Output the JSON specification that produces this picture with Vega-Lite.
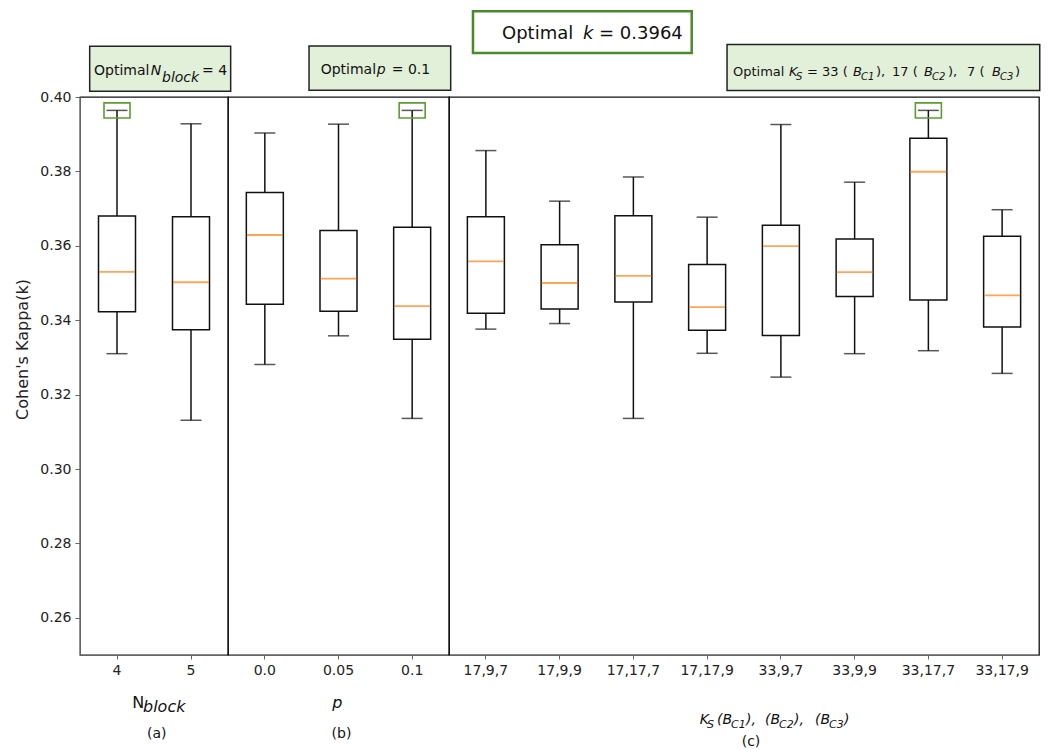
{
  "$schema": "https://vega.github.io/schema/vega-lite/v6.json",
  "padding": {"left": 14, "top": 9, "right": 5, "bottom": 5},
  "config": {
    "font": "DejaVu Sans",
    "view": {"stroke": "#111", "strokeWidth": 1.3},
    "axis": {"grid": false, "labelFontSize": 14, "labelColor": "#222", "domainColor": "#666", "tickColor": "#666", "titleFontWeight": "normal", "titleColor": "#222"},
    "axisX": {"tickSize": 4, "labelPadding": 4},
    "axisY": {"tickSize": 5, "labelPadding": 4}
  },
  "datasets": {
    "boxes": [
      {"panel": "a", "cat": "4", "lower": 0.3310, "q1": 0.3423, "median": 0.3530, "q3": 0.3680, "upper": 0.3964, "optimal": true},
      {"panel": "a", "cat": "5", "lower": 0.3131, "q1": 0.3374, "median": 0.3502, "q3": 0.3678, "upper": 0.3928, "optimal": false},
      {"panel": "b", "cat": "0.0", "lower": 0.3281, "q1": 0.3443, "median": 0.3629, "q3": 0.3743, "upper": 0.3903, "optimal": false},
      {"panel": "b", "cat": "0.05", "lower": 0.3358, "q1": 0.3424, "median": 0.3512, "q3": 0.3641, "upper": 0.3927, "optimal": false},
      {"panel": "b", "cat": "0.1", "lower": 0.3136, "q1": 0.3349, "median": 0.3438, "q3": 0.3650, "upper": 0.3964, "optimal": true},
      {"panel": "c", "cat": "17,9,7", "lower": 0.3376, "q1": 0.3419, "median": 0.3558, "q3": 0.3678, "upper": 0.3856, "optimal": false},
      {"panel": "c", "cat": "17,9,9", "lower": 0.3391, "q1": 0.3430, "median": 0.3500, "q3": 0.3603, "upper": 0.3720, "optimal": false},
      {"panel": "c", "cat": "17,17,7", "lower": 0.3136, "q1": 0.3449, "median": 0.3519, "q3": 0.3681, "upper": 0.3785, "optimal": false},
      {"panel": "c", "cat": "17,17,9", "lower": 0.3311, "q1": 0.3373, "median": 0.3435, "q3": 0.3550, "upper": 0.3677, "optimal": false},
      {"panel": "c", "cat": "33,9,7", "lower": 0.3247, "q1": 0.3359, "median": 0.3599, "q3": 0.3655, "upper": 0.3926, "optimal": false},
      {"panel": "c", "cat": "33,9,9", "lower": 0.3310, "q1": 0.3464, "median": 0.3529, "q3": 0.3618, "upper": 0.3771, "optimal": false},
      {"panel": "c", "cat": "33,17,7", "lower": 0.3318, "q1": 0.3454, "median": 0.3799, "q3": 0.3889, "upper": 0.3964, "optimal": true},
      {"panel": "c", "cat": "33,17,9", "lower": 0.3257, "q1": 0.3382, "median": 0.3467, "q3": 0.3626, "upper": 0.3697, "optimal": false}
    ]
  },
  "spacing": 0,
  "bounds": "flush",
  "hconcat": [
    {
      "width": 148,
      "height": 558,
      "layer": [
        {
          "data": {"name": "boxes"},
          "transform": [{"filter": "datum.panel === 'a'"}],
          "encoding": {
            "x": {"field": "cat", "type": "nominal", "sort": null, "title": null, "scale": {"type": "band", "domain": ["4", "5"], "paddingInner": 0, "paddingOuter": 0}, "axis": {"title": null, "labelAngle": 0}}
          },
          "layer": [
            {"mark": {"type": "rule", "color": "#111", "strokeWidth": 1.5},
             "encoding": {"y": {"field": "lower", "type": "quantitative", "title": "Cohen's Kappa(k)", "scale": {"domain": [0.25, 0.40], "nice": false, "zero": false},
               "axis": {"title": "Cohen's Kappa(k)", "values": [0.26, 0.28, 0.30, 0.32, 0.34, 0.36, 0.38, 0.40], "format": ".2f", "titleFontSize": 16, "titlePadding": 9, "titleY": 252}},
               "y2": {"field": "upper"}}},
            {"mark": {"type": "tick", "color": "#111", "size": 21, "thickness": 1.5}, "encoding": {"y": {"field": "lower", "type": "quantitative", "title": "Cohen's Kappa(k)"}}},
            {"mark": {"type": "tick", "color": "#111", "size": 21, "thickness": 1.5}, "encoding": {"y": {"field": "upper", "type": "quantitative", "title": "Cohen's Kappa(k)"}}},
            {"mark": {"type": "bar", "fill": "white", "stroke": "#111", "strokeWidth": 1.5, "size": 37}, "encoding": {"y": {"field": "q1", "type": "quantitative", "title": "Cohen's Kappa(k)"}, "y2": {"field": "q3"}}},
            {"mark": {"type": "tick", "color": "#ff7f0e", "size": 36, "thickness": 1.8}, "encoding": {"y": {"field": "median", "type": "quantitative", "title": "Cohen's Kappa(k)"}}},
            {"transform": [{"filter": "datum.optimal === true"}],
             "mark": {"type": "point", "shape": "M-1,-0.58L1,-0.58L1,0.58L-1,0.58Z", "size": 676, "filled": false, "stroke": "#5a9e32", "strokeWidth": 1.6, "opacity": 1},
             "encoding": {"y": {"field": "upper", "type": "quantitative", "title": "Cohen's Kappa(k)"}}}
          ]
        },
        {
          "data": {"values": [{}]},
          "layer": [
            {"mark": {"type": "rect", "fill": "#e2f0d9", "stroke": "#222", "strokeWidth": 1.5, "clip": false},
             "encoding": {"x": {"datum": "4", "type": "nominal", "bandPosition": 0.131, "title": null}, "x2": {"datum": "5", "bandPosition": 1.036},
               "y": {"datum": 0.41363, "type": "quantitative", "title": "Cohen's Kappa(k)"}, "y2": {"datum": 0.40153}}},
            {"mark": {"type": "text", "text": "Optimal", "align": "left", "baseline": "alphabetic", "fontSize": 14, "dx": 14, "color": "#111"},
             "encoding": {"x": {"datum": "4", "type": "nominal", "bandPosition": 0, "title": null}, "y": {"datum": 0.40583, "type": "quantitative", "title": "Cohen's Kappa(k)"}}},
            {"mark": {"type": "text", "text": "N", "align": "left", "baseline": "alphabetic", "fontSize": 14, "fontStyle": "italic", "dx": 70.7, "color": "#111"},
             "encoding": {"x": {"datum": "4", "type": "nominal", "bandPosition": 0, "title": null}, "y": {"datum": 0.40583, "type": "quantitative", "title": "Cohen's Kappa(k)"}}},
            {"mark": {"type": "text", "text": "block", "align": "left", "baseline": "alphabetic", "fontSize": 14, "fontStyle": "italic", "dx": 82, "dy": 7, "color": "#111"},
             "encoding": {"x": {"datum": "4", "type": "nominal", "bandPosition": 0, "title": null}, "y": {"datum": 0.40583, "type": "quantitative", "title": "Cohen's Kappa(k)"}}},
            {"mark": {"type": "text", "text": "= 4", "align": "left", "baseline": "alphabetic", "fontSize": 14, "dx": 122, "color": "#111"},
             "encoding": {"x": {"datum": "4", "type": "nominal", "bandPosition": 0, "title": null}, "y": {"datum": 0.40583, "type": "quantitative", "title": "Cohen's Kappa(k)"}}},
            {"mark": {"type": "text", "text": "N", "align": "left", "baseline": "alphabetic", "fontSize": 16, "dx": 52.3, "color": "#111", "clip": false},
             "encoding": {"x": {"datum": "4", "type": "nominal", "bandPosition": 0, "title": null}, "y": {"datum": 0.23567, "type": "quantitative", "title": "Cohen's Kappa(k)"}}},
            {"mark": {"type": "text", "text": "block", "align": "left", "baseline": "alphabetic", "fontSize": 16, "fontStyle": "italic", "dx": 63, "dy": 4, "color": "#111", "clip": false},
             "encoding": {"x": {"datum": "4", "type": "nominal", "bandPosition": 0, "title": null}, "y": {"datum": 0.23567, "type": "quantitative", "title": "Cohen's Kappa(k)"}}},
            {"mark": {"type": "text", "text": "(a)", "align": "center", "baseline": "alphabetic", "fontSize": 14, "dx": 76.7, "color": "#111", "clip": false},
             "encoding": {"x": {"datum": "4", "type": "nominal", "bandPosition": 0, "title": null}, "y": {"datum": 0.22761, "type": "quantitative", "title": "Cohen's Kappa(k)"}}}
          ]
        }
      ]
    },
    {
      "width": 221,
      "height": 558,
      "layer": [
        {
          "data": {"name": "boxes"},
          "transform": [{"filter": "datum.panel === 'b'"}],
          "encoding": {
            "x": {"field": "cat", "type": "nominal", "sort": null, "title": null, "scale": {"type": "band", "domain": ["0.0", "0.05", "0.1"], "paddingInner": 0, "paddingOuter": 0}, "axis": {"title": null, "labelAngle": 0}}
          },
          "layer": [
            {"mark": {"type": "rule", "color": "#111", "strokeWidth": 1.5},
             "encoding": {"y": {"field": "lower", "type": "quantitative", "scale": {"domain": [0.25, 0.40], "nice": false, "zero": false}, "axis": null}, "y2": {"field": "upper"}}},
            {"mark": {"type": "tick", "color": "#111", "size": 21, "thickness": 1.5}, "encoding": {"y": {"field": "lower", "type": "quantitative", "axis": null}}},
            {"mark": {"type": "tick", "color": "#111", "size": 21, "thickness": 1.5}, "encoding": {"y": {"field": "upper", "type": "quantitative", "axis": null}}},
            {"mark": {"type": "bar", "fill": "white", "stroke": "#111", "strokeWidth": 1.5, "size": 37}, "encoding": {"y": {"field": "q1", "type": "quantitative", "axis": null}, "y2": {"field": "q3"}}},
            {"mark": {"type": "tick", "color": "#ff7f0e", "size": 36, "thickness": 1.8}, "encoding": {"y": {"field": "median", "type": "quantitative", "axis": null}}},
            {"transform": [{"filter": "datum.optimal === true"}],
             "mark": {"type": "point", "shape": "M-1,-0.58L1,-0.58L1,0.58L-1,0.58Z", "size": 676, "filled": false, "stroke": "#5a9e32", "strokeWidth": 1.6, "opacity": 1},
             "encoding": {"y": {"field": "upper", "type": "quantitative", "axis": null}}}
          ]
        },
        {
          "data": {"values": [{}]},
          "layer": [
            {"mark": {"type": "rect", "fill": "#e2f0d9", "stroke": "#222", "strokeWidth": 1.5, "clip": false},
             "encoding": {"x": {"datum": "0.05", "type": "nominal", "bandPosition": 0.1, "title": null}, "x2": {"datum": "0.1", "bandPosition": 1.023},
               "y": {"datum": 0.41371, "type": "quantitative", "axis": null}, "y2": {"datum": 0.4018}}},
            {"mark": {"type": "text", "text": "Optimal", "align": "left", "baseline": "alphabetic", "fontSize": 14, "dx": 92.7, "color": "#111"},
             "encoding": {"x": {"datum": "0.0", "type": "nominal", "bandPosition": 0, "title": null}, "y": {"datum": 0.40618, "type": "quantitative", "axis": null}}},
            {"mark": {"type": "text", "text": "p", "align": "left", "baseline": "alphabetic", "fontSize": 14, "fontStyle": "italic", "dx": 148.7, "color": "#111"},
             "encoding": {"x": {"datum": "0.0", "type": "nominal", "bandPosition": 0, "title": null}, "y": {"datum": 0.40618, "type": "quantitative", "axis": null}}},
            {"mark": {"type": "text", "text": "= 0.1", "align": "left", "baseline": "alphabetic", "fontSize": 14, "dx": 163.7, "color": "#111"},
             "encoding": {"x": {"datum": "0.0", "type": "nominal", "bandPosition": 0, "title": null}, "y": {"datum": 0.40618, "type": "quantitative", "axis": null}}},
            {"mark": {"type": "text", "text": "p", "align": "left", "baseline": "alphabetic", "fontSize": 16, "fontStyle": "italic", "dx": 104.3, "color": "#111", "clip": false},
             "encoding": {"x": {"datum": "0.0", "type": "nominal", "bandPosition": 0, "title": null}, "y": {"datum": 0.23567, "type": "quantitative", "axis": null}}},
            {"mark": {"type": "text", "text": "(b)", "align": "center", "baseline": "alphabetic", "fontSize": 14, "dx": 113.5, "color": "#111", "clip": false},
             "encoding": {"x": {"datum": "0.0", "type": "nominal", "bandPosition": 0, "title": null}, "y": {"datum": 0.22761, "type": "quantitative", "axis": null}}}
          ]
        }
      ]
    },
    {
      "width": 590,
      "height": 558,
      "layer": [
        {
          "data": {"name": "boxes"},
          "transform": [{"filter": "datum.panel === 'c'"}],
          "encoding": {
            "x": {"field": "cat", "type": "nominal", "sort": null, "title": null, "scale": {"type": "band", "domain": ["17,9,7", "17,9,9", "17,17,7", "17,17,9", "33,9,7", "33,9,9", "33,17,7", "33,17,9"], "paddingInner": 0, "paddingOuter": 0}, "axis": {"title": null, "labelAngle": 0}}
          },
          "layer": [
            {"mark": {"type": "rule", "color": "#111", "strokeWidth": 1.5},
             "encoding": {"y": {"field": "lower", "type": "quantitative", "scale": {"domain": [0.25, 0.40], "nice": false, "zero": false}, "axis": null}, "y2": {"field": "upper"}}},
            {"mark": {"type": "tick", "color": "#111", "size": 21, "thickness": 1.5}, "encoding": {"y": {"field": "lower", "type": "quantitative", "axis": null}}},
            {"mark": {"type": "tick", "color": "#111", "size": 21, "thickness": 1.5}, "encoding": {"y": {"field": "upper", "type": "quantitative", "axis": null}}},
            {"mark": {"type": "bar", "fill": "white", "stroke": "#111", "strokeWidth": 1.5, "size": 37}, "encoding": {"y": {"field": "q1", "type": "quantitative", "axis": null}, "y2": {"field": "q3"}}},
            {"mark": {"type": "tick", "color": "#ff7f0e", "size": 36, "thickness": 1.8}, "encoding": {"y": {"field": "median", "type": "quantitative", "axis": null}}},
            {"transform": [{"filter": "datum.optimal === true"}],
             "mark": {"type": "point", "shape": "M-1,-0.58L1,-0.58L1,0.58L-1,0.58Z", "size": 676, "filled": false, "stroke": "#5a9e32", "strokeWidth": 1.6, "opacity": 1},
             "encoding": {"y": {"field": "upper", "type": "quantitative", "axis": null}}}
          ]
        },
        {
          "data": {"values": [{}]},
          "encoding": {
            "x": {"datum": "17,9,7", "type": "nominal", "bandPosition": 0, "title": null}
          },
          "layer": [
            {"mark": {"type": "rect", "fill": "white", "stroke": "#4a8a2a", "strokeWidth": 2.5, "clip": false},
             "encoding": {"x": {"datum": "17,9,7", "type": "nominal", "bandPosition": 0.325, "title": null}, "x2": {"datum": "17,17,9", "bandPosition": 0.291},
               "y": {"datum": 0.42304, "type": "quantitative", "axis": null}, "y2": {"datum": 0.41183}}},
            {"mark": {"type": "text", "text": "Optimal", "align": "left", "baseline": "alphabetic", "fontSize": 18, "dx": 53, "color": "#111"},
             "encoding": {"y": {"datum": 0.41551, "type": "quantitative", "axis": null}}},
            {"mark": {"type": "text", "text": "k", "align": "left", "baseline": "alphabetic", "fontSize": 18, "fontStyle": "italic", "dx": 134, "color": "#111"},
             "encoding": {"y": {"datum": 0.41551, "type": "quantitative", "axis": null}}},
            {"mark": {"type": "text", "text": "= 0.3964", "align": "left", "baseline": "alphabetic", "fontSize": 18, "dx": 150, "color": "#111"},
             "encoding": {"y": {"datum": 0.41551, "type": "quantitative", "axis": null}}},

            {"mark": {"type": "rect", "fill": "#e2f0d9", "stroke": "#222", "strokeWidth": 1.5, "clip": false},
             "encoding": {"x": {"datum": "17,17,9", "type": "nominal", "bandPosition": 0.77, "title": null}, "x2": {"datum": "33,17,9", "bandPosition": 1.01},
               "y": {"datum": 0.41409, "type": "quantitative", "axis": null}, "y2": {"datum": 0.40172}}},
            {"mark": {"type": "text", "text": "Optimal", "align": "left", "baseline": "alphabetic", "fontSize": 13, "dx": 284, "color": "#111"},
             "encoding": {"y": {"datum": 0.40556, "type": "quantitative", "axis": null}}},
            {"mark": {"type": "text", "text": "K", "align": "left", "baseline": "alphabetic", "fontSize": 13, "fontStyle": "italic", "dx": 340, "color": "#111"},
             "encoding": {"y": {"datum": 0.40556, "type": "quantitative", "axis": null}}},
            {"mark": {"type": "text", "text": "S", "align": "left", "baseline": "alphabetic", "fontSize": 10, "fontStyle": "italic", "dx": 347, "dy": 4, "color": "#111"},
             "encoding": {"y": {"datum": 0.40556, "type": "quantitative", "axis": null}}},
            {"mark": {"type": "text", "text": "= 33 (", "align": "left", "baseline": "alphabetic", "fontSize": 13, "dx": 358, "color": "#111"},
             "encoding": {"y": {"datum": 0.40556, "type": "quantitative", "axis": null}}},
            {"mark": {"type": "text", "text": "B", "align": "left", "baseline": "alphabetic", "fontSize": 13, "fontStyle": "italic", "dx": 404, "color": "#111"},
             "encoding": {"y": {"datum": 0.40556, "type": "quantitative", "axis": null}}},
            {"mark": {"type": "text", "text": "C1", "align": "left", "baseline": "alphabetic", "fontSize": 10, "fontStyle": "italic", "dx": 412, "dy": 4, "color": "#111"},
             "encoding": {"y": {"datum": 0.40556, "type": "quantitative", "axis": null}}},
            {"mark": {"type": "text", "text": "),", "align": "left", "baseline": "alphabetic", "fontSize": 13, "dx": 427, "color": "#111"},
             "encoding": {"y": {"datum": 0.40556, "type": "quantitative", "axis": null}}},
            {"mark": {"type": "text", "text": "17 (", "align": "left", "baseline": "alphabetic", "fontSize": 13, "dx": 443, "color": "#111"},
             "encoding": {"y": {"datum": 0.40556, "type": "quantitative", "axis": null}}},
            {"mark": {"type": "text", "text": "B", "align": "left", "baseline": "alphabetic", "fontSize": 13, "fontStyle": "italic", "dx": 475, "color": "#111"},
             "encoding": {"y": {"datum": 0.40556, "type": "quantitative", "axis": null}}},
            {"mark": {"type": "text", "text": "C2", "align": "left", "baseline": "alphabetic", "fontSize": 10, "fontStyle": "italic", "dx": 483, "dy": 4, "color": "#111"},
             "encoding": {"y": {"datum": 0.40556, "type": "quantitative", "axis": null}}},
            {"mark": {"type": "text", "text": "),", "align": "left", "baseline": "alphabetic", "fontSize": 13, "dx": 499, "color": "#111"},
             "encoding": {"y": {"datum": 0.40556, "type": "quantitative", "axis": null}}},
            {"mark": {"type": "text", "text": "7 (", "align": "left", "baseline": "alphabetic", "fontSize": 13, "dx": 518, "color": "#111"},
             "encoding": {"y": {"datum": 0.40556, "type": "quantitative", "axis": null}}},
            {"mark": {"type": "text", "text": "B", "align": "left", "baseline": "alphabetic", "fontSize": 13, "fontStyle": "italic", "dx": 543, "color": "#111"},
             "encoding": {"y": {"datum": 0.40556, "type": "quantitative", "axis": null}}},
            {"mark": {"type": "text", "text": "C3", "align": "left", "baseline": "alphabetic", "fontSize": 10, "fontStyle": "italic", "dx": 551, "dy": 4, "color": "#111"},
             "encoding": {"y": {"datum": 0.40556, "type": "quantitative", "axis": null}}},
            {"mark": {"type": "text", "text": ")", "align": "left", "baseline": "alphabetic", "fontSize": 13, "dx": 566, "color": "#111"},
             "encoding": {"y": {"datum": 0.40556, "type": "quantitative", "axis": null}}},

            {"mark": {"type": "text", "text": "K", "align": "left", "baseline": "alphabetic", "fontSize": 14, "fontStyle": "italic", "dx": 250.7, "color": "#111", "clip": false},
             "encoding": {"y": {"datum": 0.23137, "type": "quantitative", "axis": null}}},
            {"mark": {"type": "text", "text": "S", "align": "left", "baseline": "alphabetic", "fontSize": 11, "fontStyle": "italic", "dx": 258, "dy": 4, "color": "#111", "clip": false},
             "encoding": {"y": {"datum": 0.23137, "type": "quantitative", "axis": null}}},
            {"mark": {"type": "text", "text": "(B", "align": "left", "baseline": "alphabetic", "fontSize": 14, "fontStyle": "italic", "dx": 268, "color": "#111", "clip": false},
             "encoding": {"y": {"datum": 0.23137, "type": "quantitative", "axis": null}}},
            {"mark": {"type": "text", "text": "C1", "align": "left", "baseline": "alphabetic", "fontSize": 11, "fontStyle": "italic", "dx": 282, "dy": 4, "color": "#111", "clip": false},
             "encoding": {"y": {"datum": 0.23137, "type": "quantitative", "axis": null}}},
            {"mark": {"type": "text", "text": "),", "align": "left", "baseline": "alphabetic", "fontSize": 14, "fontStyle": "italic", "dx": 297, "color": "#111", "clip": false},
             "encoding": {"y": {"datum": 0.23137, "type": "quantitative", "axis": null}}},
            {"mark": {"type": "text", "text": "(B", "align": "left", "baseline": "alphabetic", "fontSize": 14, "fontStyle": "italic", "dx": 316, "color": "#111", "clip": false},
             "encoding": {"y": {"datum": 0.23137, "type": "quantitative", "axis": null}}},
            {"mark": {"type": "text", "text": "C2", "align": "left", "baseline": "alphabetic", "fontSize": 11, "fontStyle": "italic", "dx": 330, "dy": 4, "color": "#111", "clip": false},
             "encoding": {"y": {"datum": 0.23137, "type": "quantitative", "axis": null}}},
            {"mark": {"type": "text", "text": "),", "align": "left", "baseline": "alphabetic", "fontSize": 14, "fontStyle": "italic", "dx": 345, "color": "#111", "clip": false},
             "encoding": {"y": {"datum": 0.23137, "type": "quantitative", "axis": null}}},
            {"mark": {"type": "text", "text": "(B", "align": "left", "baseline": "alphabetic", "fontSize": 14, "fontStyle": "italic", "dx": 366, "color": "#111", "clip": false},
             "encoding": {"y": {"datum": 0.23137, "type": "quantitative", "axis": null}}},
            {"mark": {"type": "text", "text": "C3", "align": "left", "baseline": "alphabetic", "fontSize": 11, "fontStyle": "italic", "dx": 380, "dy": 4, "color": "#111", "clip": false},
             "encoding": {"y": {"datum": 0.23137, "type": "quantitative", "axis": null}}},
            {"mark": {"type": "text", "text": ")", "align": "left", "baseline": "alphabetic", "fontSize": 14, "fontStyle": "italic", "dx": 395, "color": "#111", "clip": false},
             "encoding": {"y": {"datum": 0.23137, "type": "quantitative", "axis": null}}},
            {"mark": {"type": "text", "text": "(c)", "align": "center", "baseline": "alphabetic", "fontSize": 14, "dx": 302, "color": "#111", "clip": false},
             "encoding": {"y": {"datum": 0.22546, "type": "quantitative", "axis": null}}}
          ]
        }
      ]
    }
  ]
}
